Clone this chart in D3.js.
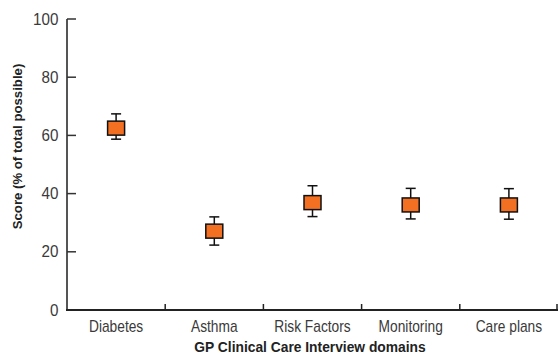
<!DOCTYPE html>
<html><head><meta charset="utf-8">
<script src="https://cdn.jsdelivr.net/npm/d3@7"></script>
<style>body{margin:0;background:#fff}svg{display:block}</style>
</head><body><svg id="c" width="558" height="355"></svg>
<script>
const categories = ["Diabetes", "Asthma", "Risk Factors", "Monitoring", "Care plans"];
const means = [62.5, 27.1, 36.9, 36.1, 36.1];
const lows  = [58.7, 22.3, 32.1, 31.3, 31.2];
const highs = [67.4, 32.0, 42.7, 41.8, 41.7];
const yTicks = [0, 20, 40, 60, 80, 100];
const xTitle = "GP Clinical Care Interview domains";
const yTitle = "Score (% of total possible)";

const svg = d3.select("#c");
const x = d3.scaleBand().domain(categories).range([67, 558]).padding(0);
const y = d3.scaleLinear().domain([0, 100]).range([310, 19]);
const font = "'Liberation Sans',Arial,sans-serif";

// y axis
const ya = svg.append("g").attr("transform", "translate(67,0)")
  .call(d3.axisLeft(y).tickValues(yTicks).tickSize(0).tickPadding(9));
ya.select(".domain").remove();
ya.selectAll("text").attr("font-family", font).attr("font-size", 16).attr("fill", "#3a3a3a")
  .attr("transform", "scale(0.95,1)");
svg.append("line").attr("x1", 67).attr("x2", 67).attr("y1", y(100)).attr("y2", y(0) + 1)
  .attr("stroke", "#555").attr("stroke-width", 2);
svg.selectAll(".yt").data(yTicks).join("line")
  .attr("x1", 67).attr("x2", 76).attr("y1", d => y(d)).attr("y2", d => y(d))
  .attr("stroke", "#333").attr("stroke-width", 1.5);

// x axis
svg.append("line").attr("x1", 66).attr("x2", 558).attr("y1", y(0)).attr("y2", y(0))
  .attr("stroke", "#222").attr("stroke-width", 2);
const bounds = categories.map(c => x(c) + x.bandwidth());
svg.selectAll(".xt").data(bounds).join("line")
  .attr("x1", d => Math.min(d, 557)).attr("x2", d => Math.min(d, 557))
  .attr("y1", y(0)).attr("y2", y(0) - 6)
  .attr("stroke", "#222").attr("stroke-width", 1.5);
svg.selectAll(".xl").data(categories).join("text")
  .attr("transform", d => `translate(${x(d) + x.bandwidth() / 2},332) scale(0.86,1)`)
  .attr("text-anchor", "middle").attr("font-family", font).attr("font-size", 16)
  .attr("fill", "#3a3a3a").text(d => d);

// titles
svg.append("text").attr("x", 310).attr("y", 352)
  .attr("text-anchor", "middle").attr("font-family", font)
  .attr("font-weight", "bold").attr("font-size", 13.8).attr("fill", "#222").text(xTitle);
svg.append("text").attr("transform", `translate(22,${(63 + 230) / 2}) rotate(-90)`)
  .attr("text-anchor", "middle").attr("font-family", font)
  .attr("font-weight", "bold").attr("font-size", 13.2).attr("fill", "#222").text(yTitle);

// error bars + mean markers
const g = svg.append("g");
categories.forEach((c, i) => {
  const cx = x(c) + x.bandwidth() / 2;
  g.append("line").attr("x1", cx).attr("x2", cx).attr("y1", y(highs[i])).attr("y2", y(lows[i]))
    .attr("stroke", "#111").attr("stroke-width", 1.5);
  [highs[i], lows[i]].forEach(v => {
    g.append("line").attr("x1", cx - 5).attr("x2", cx + 5).attr("y1", y(v)).attr("y2", y(v))
      .attr("stroke", "#111").attr("stroke-width", 1.5);
  });
  g.append("rect").attr("x", cx - 8.5).attr("y", y(means[i]) - 7).attr("width", 17).attr("height", 14)
    .attr("fill", "#f36f21").attr("stroke", "#111").attr("stroke-width", 1.5);
});
</script></body></html>
